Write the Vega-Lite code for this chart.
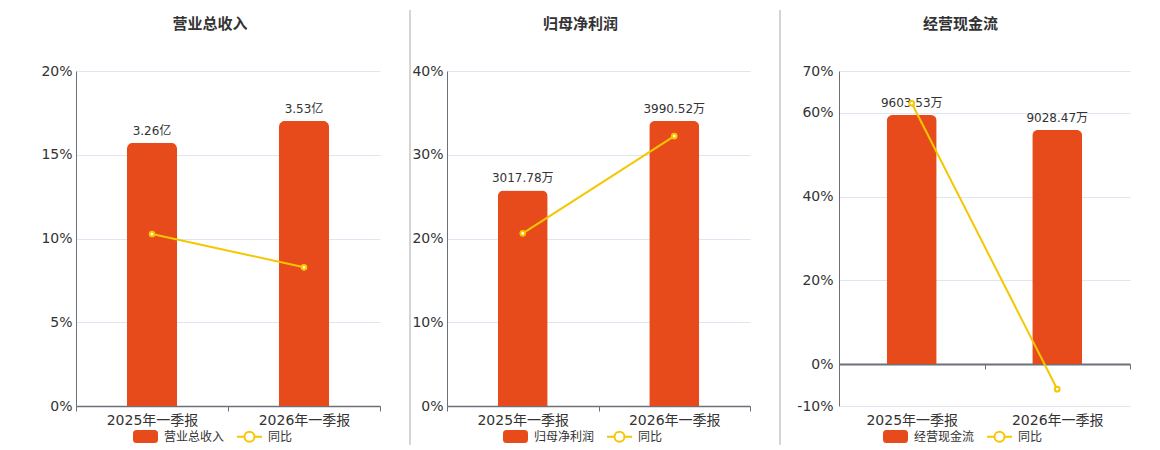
{
  "$schema": "https://vega.github.io/schema/vega-lite/v6.json",
  "padding": {"left": 40, "top": 9, "right": 5, "bottom": 0},
  "spacing": 0,
  "bounds": "flush",
  "config": {
    "font": "'DejaVu Sans', 'Noto Sans CJK SC', sans-serif",
    "view": {"stroke": null},
    "axis": {
      "labelColor": "#333",
      "labelFontSize": 14,
      "title": null,
      "domainColor": "#6e7079",
      "tickColor": "#6e7079",
      "gridColor": "#e0e6f1"
    },
    "legend": {
      "labelFontSize": 12,
      "labelColor": "#333",
      "padding": 0,
      "columnPadding": 8,
      "labelOffset": 5,
      "title": null
    },
    "title": {"fontSize": 15, "fontWeight": "bold", "color": "#333", "anchor": "middle", "offset": 32}
  },
  "resolve": {
    "scale": {"x": "independent", "y": "independent", "color": "independent"},
    "legend": {"color": "independent"}
  },
  "hconcat": [
    {
      "title": {"text": "营业总收入", "dx": -18},
      "width": 304,
      "height": 335,
      "data": {"values": [
        {"period": "2025年一季报", "value": 3.26, "label": "3.26亿", "yoy": 10.27},
        {"period": "2026年一季报", "value": 3.53, "label": "3.53亿", "yoy": 8.28}
      ]},
      "encoding": {
        "x": {
          "field": "period", "type": "nominal", "sort": null,
          "scale": {"paddingInner": 0, "paddingOuter": 0},
          "axis": {"labelAngle": 0, "domainWidth": 1.5, "tickSize": 5, "tickBand": "extent", "labelPadding": 2}
        }
      },
      "layer": [
        {
          "mark": {"type": "bar", "width": 50, "cornerRadiusTopLeft": 6, "cornerRadiusTopRight": 6},
          "encoding": {
            "y": {"field": "value", "type": "quantitative", "scale": {"domain": [0, 4.148], "nice": false}, "axis": null},
            "color": {
              "datum": "营业总收入",
              "scale": {"domain": ["营业总收入", "同比"], "range": ["#e84b1b", "#f5c700"]},
              "legend": {
                "orient": "none", "legendX": 56, "legendY": 352, "direction": "horizontal",
                "symbolSize": 625, "symbolStrokeWidth": 2,
                "encode": {"symbols": {"update": {
                  "shape": {"signal": "datum.value === '同比' ? 'M-1,0H-0.4M0.4,0A0.4,0.4 0 1 1 -0.4,0A0.4,0.4 0 1 1 0.4,0A0.4,0.4 0 1 0 -0.4,0A0.4,0.4 0 1 0 0.4,0M0.4,0H1' : 'M-0.72,-0.44H0.72A0.2,0.2 0 0 1 0.92,-0.24V0.24A0.2,0.2 0 0 1 0.72,0.44H-0.72A0.2,0.2 0 0 1 -0.92,0.24V-0.24A0.2,0.2 0 0 1 -0.72,-0.44Z'"},
                  "opacity": {"value": 1}
                }}}
              }
            }
          }
        },
        {
          "mark": {"type": "text", "baseline": "bottom", "dy": -5, "fontSize": 12, "color": "#333"},
          "encoding": {
            "y": {"field": "value", "type": "quantitative", "scale": {"domain": [0, 4.148], "nice": false}, "axis": null},
            "text": {"field": "label"}
          }
        },
        {
          "mark": {"type": "line", "strokeWidth": 2},
          "encoding": {
            "y": {
              "field": "yoy", "type": "quantitative",
              "scale": {"domain": [0, 20], "nice": false},
              "axis": {"values": [0, 5, 10, 15, 20], "labelExpr": "datum.value + '%'", "ticks": false, "grid": true, "labelPadding": 4}
            },
            "color": {
              "datum": "同比",
              "legend": {
                "orient": "none", "legendX": 56, "legendY": 352, "direction": "horizontal",
                "symbolSize": 625, "symbolStrokeWidth": 2,
                "encode": {"symbols": {"update": {
                  "shape": {"signal": "datum.value === '同比' ? 'M-1,0H-0.4M0.4,0A0.4,0.4 0 1 1 -0.4,0A0.4,0.4 0 1 1 0.4,0A0.4,0.4 0 1 0 -0.4,0A0.4,0.4 0 1 0 0.4,0M0.4,0H1' : 'M-0.72,-0.44H0.72A0.2,0.2 0 0 1 0.92,-0.24V0.24A0.2,0.2 0 0 1 0.72,0.44H-0.72A0.2,0.2 0 0 1 -0.92,0.24V-0.24A0.2,0.2 0 0 1 -0.72,-0.44Z'"},
                  "opacity": {"value": 1}
                }}}
              }
            }
          }
        },
        {
          "mark": {"type": "point", "shape": "circle", "filled": true, "fill": "#ffffff", "stroke": "#f5c700", "strokeWidth": 2, "size": 22, "opacity": 1},
          "encoding": {
            "y": {"field": "yoy", "type": "quantitative", "scale": {"domain": [0, 20], "nice": false}, "axis": null}
          }
        }
      ],
      "resolve": {"scale": {"y": "independent"}}
    },
    {
      "width": 67,
      "height": 335,
      "data": {"values": [{"s": 30, "top": 1.182, "bottom": -0.116}]},
      "mark": {"type": "rule", "color": "#aaaaaa", "strokeWidth": 1},
      "encoding": {
        "x": {"field": "s", "type": "quantitative", "scale": {"domain": [0, 67]}, "axis": null},
        "y": {"field": "top", "type": "quantitative", "scale": {"domain": [0, 1], "nice": false}, "axis": null},
        "y2": {"field": "bottom"}
      }
    },
    {
      "title": {"text": "归母净利润", "dx": -18},
      "width": 303,
      "height": 335,
      "data": {"values": [
        {"period": "2025年一季报", "value": 3017.78, "label": "3017.78万", "yoy": 20.62},
        {"period": "2026年一季报", "value": 3990.52, "label": "3990.52万", "yoy": 32.23}
      ]},
      "encoding": {
        "x": {
          "field": "period", "type": "nominal", "sort": null,
          "scale": {"paddingInner": 0, "paddingOuter": 0},
          "axis": {"labelAngle": 0, "domainWidth": 1.5, "tickSize": 5, "tickBand": "extent", "labelPadding": 2}
        }
      },
      "layer": [
        {
          "mark": {"type": "bar", "width": 50, "cornerRadiusTopLeft": 6, "cornerRadiusTopRight": 6},
          "encoding": {
            "y": {"field": "value", "type": "quantitative", "scale": {"domain": [0, 4689], "nice": false}, "axis": null},
            "color": {
              "datum": "归母净利润",
              "scale": {"domain": ["归母净利润", "同比"], "range": ["#e84b1b", "#f5c700"]},
              "legend": {
                "orient": "none", "legendX": 55, "legendY": 352, "direction": "horizontal",
                "symbolSize": 625, "symbolStrokeWidth": 2,
                "encode": {"symbols": {"update": {
                  "shape": {"signal": "datum.value === '同比' ? 'M-1,0H-0.4M0.4,0A0.4,0.4 0 1 1 -0.4,0A0.4,0.4 0 1 1 0.4,0A0.4,0.4 0 1 0 -0.4,0A0.4,0.4 0 1 0 0.4,0M0.4,0H1' : 'M-0.72,-0.44H0.72A0.2,0.2 0 0 1 0.92,-0.24V0.24A0.2,0.2 0 0 1 0.72,0.44H-0.72A0.2,0.2 0 0 1 -0.92,0.24V-0.24A0.2,0.2 0 0 1 -0.72,-0.44Z'"},
                  "opacity": {"value": 1}
                }}}
              }
            }
          }
        },
        {
          "mark": {"type": "text", "baseline": "bottom", "dy": -5, "fontSize": 12, "color": "#333"},
          "encoding": {
            "y": {"field": "value", "type": "quantitative", "scale": {"domain": [0, 4689], "nice": false}, "axis": null},
            "text": {"field": "label"}
          }
        },
        {
          "mark": {"type": "line", "strokeWidth": 2},
          "encoding": {
            "y": {
              "field": "yoy", "type": "quantitative",
              "scale": {"domain": [0, 40], "nice": false},
              "axis": {"values": [0, 10, 20, 30, 40], "labelExpr": "datum.value + '%'", "ticks": false, "grid": true, "labelPadding": 4}
            },
            "color": {
              "datum": "同比",
              "legend": {
                "orient": "none", "legendX": 55, "legendY": 352, "direction": "horizontal",
                "symbolSize": 625, "symbolStrokeWidth": 2,
                "encode": {"symbols": {"update": {
                  "shape": {"signal": "datum.value === '同比' ? 'M-1,0H-0.4M0.4,0A0.4,0.4 0 1 1 -0.4,0A0.4,0.4 0 1 1 0.4,0A0.4,0.4 0 1 0 -0.4,0A0.4,0.4 0 1 0 0.4,0M0.4,0H1' : 'M-0.72,-0.44H0.72A0.2,0.2 0 0 1 0.92,-0.24V0.24A0.2,0.2 0 0 1 0.72,0.44H-0.72A0.2,0.2 0 0 1 -0.92,0.24V-0.24A0.2,0.2 0 0 1 -0.72,-0.44Z'"},
                  "opacity": {"value": 1}
                }}}
              }
            }
          }
        },
        {
          "mark": {"type": "point", "shape": "circle", "filled": true, "fill": "#ffffff", "stroke": "#f5c700", "strokeWidth": 2, "size": 22, "opacity": 1},
          "encoding": {
            "y": {"field": "yoy", "type": "quantitative", "scale": {"domain": [0, 40], "nice": false}, "axis": null}
          }
        }
      ],
      "resolve": {"scale": {"y": "independent"}}
    },
    {
      "width": 89,
      "height": 335,
      "data": {"values": [{"s": 30, "top": 1.182, "bottom": -0.116}]},
      "mark": {"type": "rule", "color": "#aaaaaa", "strokeWidth": 1},
      "encoding": {
        "x": {"field": "s", "type": "quantitative", "scale": {"domain": [0, 89]}, "axis": null},
        "y": {"field": "top", "type": "quantitative", "scale": {"domain": [0, 1], "nice": false}, "axis": null},
        "y2": {"field": "bottom"}
      }
    },
    {
      "title": {"text": "经营现金流", "dx": -24},
      "width": 291,
      "height": 335,
      "data": {"values": [
        {"period": "2025年一季报", "value": 9603.53, "label": "9603.53万", "yoy": 62.3},
        {"period": "2026年一季报", "value": 9028.47, "label": "9028.47万", "yoy": -5.99}
      ]},
      "encoding": {
        "x": {
          "field": "period", "type": "nominal", "sort": null,
          "scale": {"paddingInner": 0, "paddingOuter": 0},
          "axis": {"labelAngle": 0, "domainWidth": 2, "tickSize": 5, "tickBand": "extent", "offset": -42, "labelPadding": 44}
        }
      },
      "layer": [
        {
          "mark": {"type": "bar", "width": 50, "cornerRadiusTopLeft": 6, "cornerRadiusTopRight": 6},
          "encoding": {
            "y": {"field": "value", "type": "quantitative", "scale": {"domain": [-1620, 11300], "nice": false, "zero": false}, "axis": null},
            "color": {
              "datum": "经营现金流",
              "scale": {"domain": ["经营现金流", "同比"], "range": ["#e84b1b", "#f5c700"]},
              "legend": {
                "orient": "none", "legendX": 43, "legendY": 352, "direction": "horizontal",
                "symbolSize": 625, "symbolStrokeWidth": 2,
                "encode": {"symbols": {"update": {
                  "shape": {"signal": "datum.value === '同比' ? 'M-1,0H-0.4M0.4,0A0.4,0.4 0 1 1 -0.4,0A0.4,0.4 0 1 1 0.4,0A0.4,0.4 0 1 0 -0.4,0A0.4,0.4 0 1 0 0.4,0M0.4,0H1' : 'M-0.72,-0.44H0.72A0.2,0.2 0 0 1 0.92,-0.24V0.24A0.2,0.2 0 0 1 0.72,0.44H-0.72A0.2,0.2 0 0 1 -0.92,0.24V-0.24A0.2,0.2 0 0 1 -0.72,-0.44Z'"},
                  "opacity": {"value": 1}
                }}}
              }
            }
          }
        },
        {
          "mark": {"type": "text", "baseline": "bottom", "dy": -5, "fontSize": 12, "color": "#333"},
          "encoding": {
            "y": {"field": "value", "type": "quantitative", "scale": {"domain": [-1620, 11300], "nice": false, "zero": false}, "axis": null},
            "text": {"field": "label"}
          }
        },
        {
          "mark": {"type": "line", "strokeWidth": 2},
          "encoding": {
            "y": {
              "field": "yoy", "type": "quantitative",
              "scale": {"domain": [-10, 70], "nice": false},
              "axis": {"values": [-10, 0, 20, 40, 60, 70], "labelExpr": "datum.value + '%'", "ticks": false, "grid": true, "labelPadding": 6}
            },
            "color": {
              "datum": "同比",
              "legend": {
                "orient": "none", "legendX": 43, "legendY": 352, "direction": "horizontal",
                "symbolSize": 625, "symbolStrokeWidth": 2,
                "encode": {"symbols": {"update": {
                  "shape": {"signal": "datum.value === '同比' ? 'M-1,0H-0.4M0.4,0A0.4,0.4 0 1 1 -0.4,0A0.4,0.4 0 1 1 0.4,0A0.4,0.4 0 1 0 -0.4,0A0.4,0.4 0 1 0 0.4,0M0.4,0H1' : 'M-0.72,-0.44H0.72A0.2,0.2 0 0 1 0.92,-0.24V0.24A0.2,0.2 0 0 1 0.72,0.44H-0.72A0.2,0.2 0 0 1 -0.92,0.24V-0.24A0.2,0.2 0 0 1 -0.72,-0.44Z'"},
                  "opacity": {"value": 1}
                }}}
              }
            }
          }
        },
        {
          "mark": {"type": "point", "shape": "circle", "filled": true, "fill": "#ffffff", "stroke": "#f5c700", "strokeWidth": 2, "size": 22, "opacity": 1},
          "encoding": {
            "y": {"field": "yoy", "type": "quantitative", "scale": {"domain": [-10, 70], "nice": false}, "axis": null}
          }
        }
      ],
      "resolve": {"scale": {"y": "independent"}}
    }
  ]
}
